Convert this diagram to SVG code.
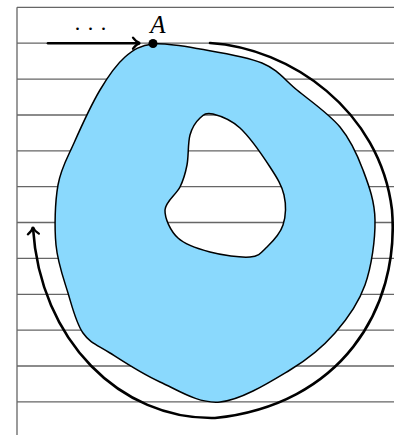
<svg xmlns="http://www.w3.org/2000/svg" width="394" height="435" viewBox="0 0 394 435">
<defs>
<style>
.grid{stroke:#666;stroke-width:1.3;fill:none}
.blob{fill:#8ad9fd;stroke:#000;stroke-width:1.5;fill-rule:evenodd}
.arr{stroke:#000;stroke-width:2.6;fill:none;stroke-linecap:round}
</style>
<marker id="head" markerUnits="userSpaceOnUse" markerWidth="20" markerHeight="20" refX="0" refY="0" viewBox="-10 -10 20 20" orient="auto" overflow="visible">
<path d="M-6,-5.5 C-3.5,-2 -1.5,-0.6 1,0 C-1.5,0.6 -3.5,2 -6,5.5" fill="none" stroke="#000" stroke-width="2.3" stroke-linecap="round"/>
</marker>
</defs>
<rect width="394" height="435" fill="#fff"/>
<g id="grid">
<path class="grid" d="M17,7.3V435 M17,7.3H394 M17,43.2H394 M17,79.1H394 M17,115H394 M17,150.8H394 M17,186.7H394 M17,222.5H394 M17,258.4H394 M17,294.3H394 M17,330.1H394 M17,366H394 M17,401.9H394"/>
</g>
<g id="region">
<path class="blob" d="M153,44 C165.5,42.7 181.8,45.8 200,49 C218.2,52.2 245.8,56.2 262,63 C278.2,69.8 284,79.3 297,90 C310,100.7 329,113.7 340,127 C351,140.3 357.2,154.5 363,170 C368.8,185.5 374.7,200.8 375,220 C375.3,239.2 371.7,266.2 365,285 C358.3,303.8 347.5,318.8 335,333 C322.5,347.2 309.2,358.5 290,370 C270.8,381.5 241.7,400 220,402 C198.3,404 178.3,390.2 160,382 C141.7,373.8 122.8,361.2 110,353 C97.2,344.8 90,343 83,333 C76,323 72.5,307.7 68,293 C63.5,278.3 57.7,263 56,245 C54.3,227 55,202 58,185 C61,168 67,158.8 74,143 C81,127.2 91.5,104.3 100,90 C108.5,75.7 116.2,64.7 125,57 C133.8,49.3 140.5,45.3 153,44 Z
M213,114 C219.7,115.7 230.5,119.2 240,128 C249.5,136.8 262.7,155.8 270,167 C277.3,178.2 281.8,185.3 284,195 C286.2,204.7 285.8,216.3 283,225 C280.2,233.7 272.5,241.7 267,247 C261.5,252.3 259.5,256.2 250,257 C240.5,257.8 222,255.2 210,252 C198,248.8 185.5,245 178,238 C170.5,231 164.7,218.5 165,210 C165.3,201.5 176.3,194.5 180,187 C183.7,179.5 185.3,173.7 187,165 C188.7,156.3 187.8,142.8 190,135 C192.2,127.2 196.2,121.5 200,118 C203.8,114.5 206.3,112.3 213,114 Z"/>
</g>
<g id="connectors">
<path class="arr" d="M48,43.2 H139" marker-end="url(#head)"/>
<path class="arr" d="M210,43 C290,48 380,110 392,210 C400,310 340,405 215,418 C120,420 40,340 33,228" marker-end="url(#head)"/>
</g>
<g id="pointA">
<circle cx="153" cy="43.5" r="4.5" fill="#000"/>
<text x="158" y="33" font-family="Liberation Serif, serif" font-style="italic" font-size="25" text-anchor="middle">A</text>
</g>
<g id="dots">
<text x="91" y="30" font-family="Liberation Serif, serif" font-size="22" letter-spacing="1" text-anchor="middle">. . .</text>
</g>
</svg>
